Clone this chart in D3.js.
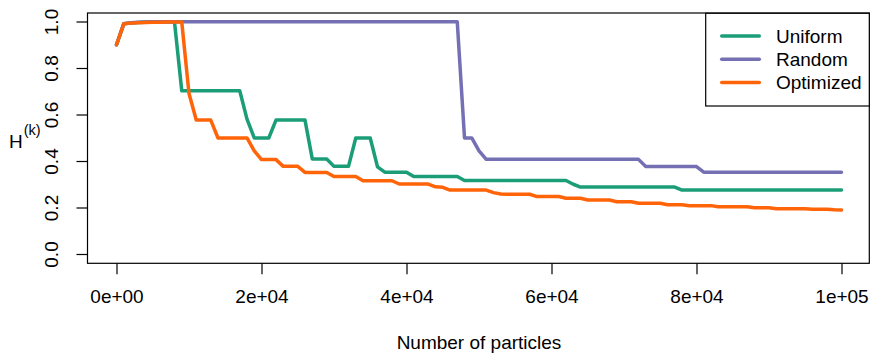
<!DOCTYPE html>
<html>
<head>
<meta charset="utf-8">
<script src="https://cdn.jsdelivr.net/npm/d3@7/dist/d3.min.js"></script>
<style>
  body { margin: 0; background: #fff; }
  text { font-family: "Liberation Sans", Arial, Helvetica, sans-serif; }
</style>
</head>
<body>
<div id="container"></div>
<script>
// sampled particle counts
const particles = [
  0, 1000, 2000, 3000, 4000, 5000, 6000, 7000, 8000, 9000,
  10000, 11000, 12000, 13000, 14000, 15000, 16000, 17000, 18000, 19000,
  20000, 21000, 22000, 23000, 24000, 25000, 26000, 27000, 28000, 29000,
  30000, 31000, 32000, 33000, 34000, 35000, 36000, 37000, 38000, 39000,
  40000, 41000, 42000, 43000, 44000, 45000, 46000, 47000, 48000, 49000,
  50000, 51000, 52000, 53000, 54000, 55000, 56000, 57000, 58000, 59000,
  60000, 61000, 62000, 63000, 64000, 65000, 66000, 67000, 68000, 69000,
  70000, 71000, 72000, 73000, 74000, 75000, 76000, 77000, 78000, 79000,
  80000, 81000, 82000, 83000, 84000, 85000, 86000, 87000, 88000, 89000,
  90000, 91000, 92000, 93000, 94000, 95000, 96000, 97000, 98000, 99000,
  100000
]

const uniform = [
  0.900, 0.990, 0.994, 0.996, 0.997, 0.998, 0.998, 0.998, 0.998, 0.702,
  0.702, 0.702, 0.702, 0.702, 0.702, 0.702, 0.702, 0.702, 0.580, 0.499,
  0.499, 0.499, 0.576, 0.576, 0.576, 0.576, 0.576, 0.409, 0.409, 0.409,
  0.377, 0.377, 0.377, 0.499, 0.499, 0.499, 0.375, 0.352, 0.352, 0.352,
  0.352, 0.333, 0.333, 0.333, 0.333, 0.333, 0.333, 0.333, 0.316, 0.316,
  0.316, 0.316, 0.316, 0.316, 0.316, 0.316, 0.316, 0.316, 0.316, 0.316,
  0.316, 0.316, 0.316, 0.300, 0.288, 0.288, 0.288, 0.288, 0.288, 0.288,
  0.288, 0.288, 0.288, 0.288, 0.288, 0.288, 0.288, 0.288, 0.275, 0.275,
  0.275, 0.275, 0.275, 0.275, 0.275, 0.275, 0.275, 0.275, 0.275, 0.275,
  0.275, 0.275, 0.275, 0.275, 0.275, 0.275, 0.275, 0.275, 0.275, 0.275,
  0.275
]

const random = [
  0.900, 0.990, 0.995, 0.997, 0.998, 0.999, 0.999, 0.999, 0.999, 0.999,
  0.999, 0.999, 0.999, 0.999, 0.999, 0.999, 0.999, 0.999, 0.999, 0.999,
  0.999, 0.999, 0.999, 0.999, 0.999, 0.999, 0.999, 0.999, 0.999, 0.999,
  0.999, 0.999, 0.999, 0.999, 0.999, 0.999, 0.999, 0.999, 0.999, 0.999,
  0.999, 0.999, 0.999, 0.999, 0.999, 0.999, 0.999, 0.999, 0.499, 0.499,
  0.444, 0.407, 0.407, 0.407, 0.407, 0.407, 0.407, 0.407, 0.407, 0.407,
  0.407, 0.407, 0.407, 0.407, 0.407, 0.407, 0.407, 0.407, 0.407, 0.407,
  0.407, 0.407, 0.407, 0.376, 0.376, 0.376, 0.376, 0.376, 0.376, 0.376,
  0.376, 0.352, 0.352, 0.352, 0.352, 0.352, 0.352, 0.352, 0.352, 0.352,
  0.352, 0.352, 0.352, 0.352, 0.352, 0.352, 0.352, 0.352, 0.352, 0.352,
  0.352
]

const optimized = [
  0.900, 0.990, 0.993, 0.995, 0.996, 0.997, 0.997, 0.998, 0.998, 0.998,
  0.690, 0.576, 0.576, 0.576, 0.499, 0.499, 0.499, 0.499, 0.499, 0.444,
  0.406, 0.406, 0.406, 0.377, 0.377, 0.377, 0.351, 0.351, 0.351, 0.351,
  0.333, 0.333, 0.333, 0.333, 0.315, 0.315, 0.315, 0.315, 0.315, 0.301,
  0.301, 0.301, 0.301, 0.301, 0.289, 0.287, 0.275, 0.275, 0.275, 0.275,
  0.275, 0.275, 0.264, 0.258, 0.257, 0.257, 0.257, 0.257, 0.247, 0.247,
  0.247, 0.247, 0.240, 0.240, 0.240, 0.232, 0.232, 0.232, 0.232, 0.225,
  0.225, 0.225, 0.218, 0.218, 0.218, 0.218, 0.212, 0.212, 0.212, 0.208,
  0.208, 0.208, 0.208, 0.203, 0.203, 0.203, 0.203, 0.203, 0.199, 0.199,
  0.199, 0.195, 0.195, 0.195, 0.195, 0.195, 0.192, 0.192, 0.192, 0.190,
  0.189
]

const seriesNames = ["Uniform", "Random", "Optimized"]
const seriesColors = ["#1B9E77", "#7570B3", "#FF6408"]

const xTicks = [0, 20000, 40000, 60000, 80000, 100000]
const xTickLabels = ["0e+00", "2e+04", "4e+04", "6e+04", "8e+04", "1e+05"]
const yTicks = [0, 0.2, 0.4, 0.6, 0.8, 1.0]
const yTickLabels = ["0.0", "0.2", "0.4", "0.6", "0.8", "1.0"]

const config = {
    width: 870,
    height: 355,
    left: 87.5,
    right: 870.5,
    top: 12.2,
    bottom: 263.3,
    fontSize: 19,
}

const svg = d3.select('#container')
    .append('svg')
    .attr('width', config.width)
    .attr('height', config.height)

// R style: 4% padding around the data range
const xScale = d3.scaleLinear()
    .domain([-4000, 104000])
    .range([config.left, config.right])

const yScale = d3.scaleLinear()
    .domain([-0.04, 1.04])
    .range([config.bottom, config.top])

const line = d3.line()
    .x((d, i) => xScale(particles[i]))
    .y(d => yScale(d))

const allSeries = [uniform, random, optimized]

svg.append('g')
    .selectAll('path')
    .data(allSeries)
    .join('path')
    .attr('d', d => line(d))
    .attr('fill', 'none')
    .attr('stroke', (_, i) => seriesColors[i])
    .attr('stroke-width', 3.5)
    .attr('stroke-linejoin', 'round')
    .attr('stroke-linecap', 'round')

// x axis
const xAxis = svg.append('g')
    .attr('transform', `translate(0,${config.bottom})`)
    .call(d3.axisBottom(xScale)
        .tickValues(xTicks)
        .tickFormat((_, i) => xTickLabels[i])
        .tickSize(11)
    )
xAxis.select('.domain').remove()
xAxis.selectAll('.tick line').attr('stroke', '#000').attr('stroke-width', 1.2)
xAxis.selectAll('.tick text')
    .attr('y', 39.7)
    .attr('dy', null)
    .attr('fill', '#000')
    .style('font-size', config.fontSize + 'px')

// y axis, labels parallel to the axis
const yAxis = svg.append('g')
    .attr('transform', `translate(${config.left},0)`)
    .call(d3.axisLeft(yScale)
        .tickValues(yTicks)
        .tickFormat((_, i) => yTickLabels[i])
        .tickSize(11)
    )
yAxis.select('.domain').remove()
yAxis.selectAll('.tick line').attr('stroke', '#000').attr('stroke-width', 1.2)
yAxis.selectAll('.tick text')
    .attr('x', null)
    .attr('dy', null)
    .attr('text-anchor', 'middle')
    .attr('transform', 'translate(-30,0) rotate(-90)')
    .attr('fill', '#000')
    .style('font-size', config.fontSize + 'px')

// plot box
svg.append('rect')
    .attr('x', config.left)
    .attr('y', config.top + 0.8)
    .attr('width', 869.3 - config.left)
    .attr('height', config.bottom - config.top - 0.8)
    .attr('fill', 'none')
    .attr('stroke', '#000')
    .attr('stroke-width', 1.2)

// axis titles
svg.append('text')
    .attr('text-anchor', 'middle')
    .attr('x', (config.left + config.right) / 2)
    .attr('y', 349)
    .style('font-size', config.fontSize + 'px')
    .text('Number of particles')

const ylab = svg.append('text')
    .attr('x', 9)
    .attr('y', 148.3)
    .style('font-size', config.fontSize + 'px')
ylab.append('tspan').text('H')
ylab.append('tspan')
    .attr('dx', 1)
    .attr('dy', -13)
    .style('font-size', '14.5px')
    .text('(k)')

// legend
const legend = svg.append('g')
legend.append('rect')
    .attr('x', 705.7)
    .attr('y', 13.3)
    .attr('width', 869.3 - 705.7)
    .attr('height', 92.7)
    .attr('fill', '#fff')
    .attr('stroke', '#000')
    .attr('stroke-width', 1.2)

legend.selectAll('line')
    .data(seriesNames)
    .join('line')
    .attr('x1', 721.7)
    .attr('x2', 759.3)
    .attr('y1', (_, i) => 36 + 23.2 * i)
    .attr('y2', (_, i) => 36 + 23.2 * i)
    .attr('stroke', (_, i) => seriesColors[i])
    .attr('stroke-width', 3.5)
    .attr('stroke-linecap', 'round')

legend.selectAll('text')
    .data(seriesNames)
    .join('text')
    .attr('x', 776)
    .attr('y', (_, i) => 36 + 23.2 * i + 6.8)
    .style('font-size', config.fontSize + 'px')
    .text(d => d)
</script>
</body>
</html>
